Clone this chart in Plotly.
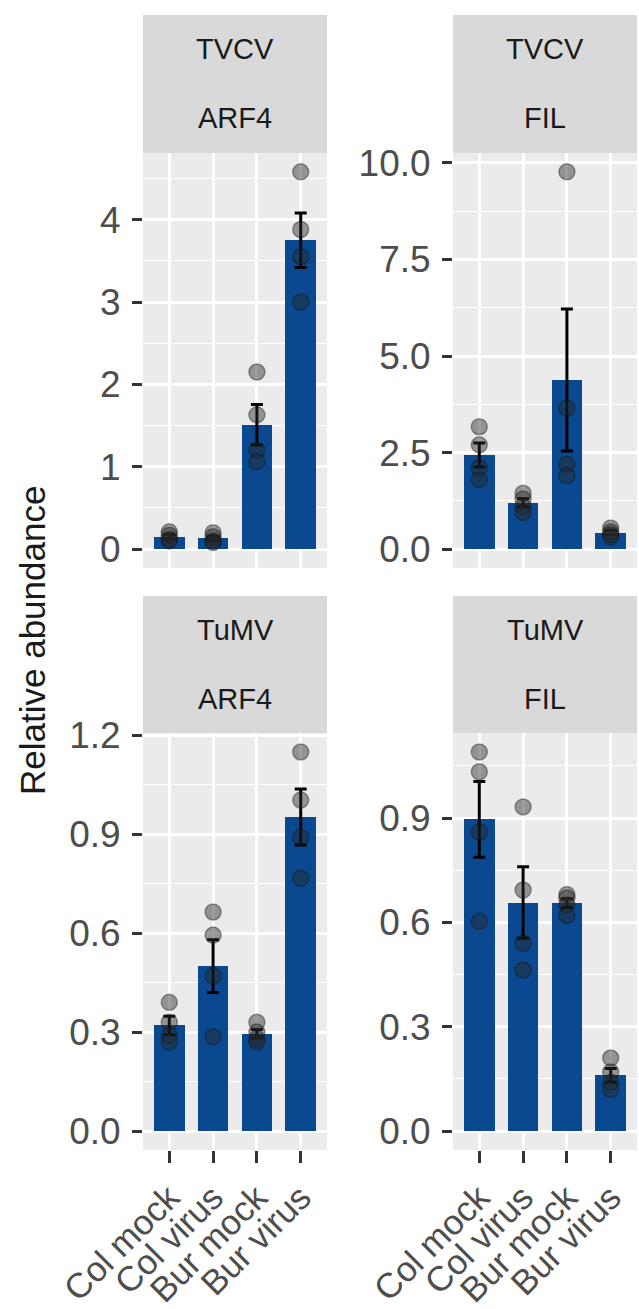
import plotly.graph_objects as go

W, H = 639, 1309

categories = ["Col mock", "Col virus", "Bur mock", "Bur virus"]
panel_virus = ["TVCV", "TVCV", "TuMV", "TuMV"]
panel_gene = ["ARF4", "FIL", "ARF4", "FIL"]

# bar heights (mean) and standard error per panel
tvcv_arf4_mean = [0.15, 0.13, 1.51, 3.75]
tvcv_arf4_se = [0.025, 0.025, 0.245, 0.33]
tvcv_fil_mean = [2.44, 1.20, 4.38, 0.43]
tvcv_fil_se = [0.31, 0.11, 1.84, 0.05]
tumv_arf4_mean = [0.32, 0.50, 0.295, 0.952]
tumv_arf4_se = [0.028, 0.08, 0.013, 0.085]
tumv_fil_mean = [0.896, 0.657, 0.655, 0.16]
tumv_fil_se = [0.109, 0.103, 0.013, 0.02]

# individual replicates (per category)
tvcv_arf4_pts = [[0.21, 0.17, 0.12, 0.10], [0.20, 0.15, 0.10, 0.08],
                 [2.15, 1.63, 1.20, 1.06], [4.58, 3.88, 3.55, 3.00]]
tvcv_fil_pts = [[3.17, 2.70, 2.10, 1.80], [1.45, 1.30, 1.10, 0.95],
                [9.77, 3.65, 2.20, 1.90], [0.55, 0.45, 0.38, 0.32]]
tumv_arf4_pts = [[0.39, 0.33, 0.29, 0.27], [0.664, 0.594, 0.47, 0.286],
                 [0.33, 0.30, 0.28, 0.27], [1.149, 1.003, 0.89, 0.766]]
tumv_fil_pts = [[1.09, 1.033, 0.86, 0.603], [0.932, 0.693, 0.54, 0.463],
                [0.68, 0.67, 0.65, 0.62], [0.21, 0.17, 0.14, 0.12]]

# y-axis tick labels per panel
tvcv_arf4_ticks = ["0", "1", "2", "3", "4"]
tvcv_fil_ticks = ["0.0", "2.5", "5.0", "7.5", "10.0"]
tumv_arf4_ticks = ["0.0", "0.3", "0.6", "0.9", "1.2"]
tumv_fil_ticks = ["0.0", "0.3", "0.6", "0.9"]

means = [tvcv_arf4_mean, tvcv_fil_mean, tumv_arf4_mean, tumv_fil_mean]
ses = [tvcv_arf4_se, tvcv_fil_se, tumv_arf4_se, tumv_fil_se]
pts = [tvcv_arf4_pts, tvcv_fil_pts, tumv_arf4_pts, tumv_fil_pts]
ticks = [tvcv_arf4_ticks, tvcv_fil_ticks, tumv_arf4_ticks, tumv_fil_ticks]

# layout geometry in pixels
col_x = [(143, 327), (453, 637)]
row_panel = [(153, 568), (733, 1150)]
row_strip = [(15, 153), (596, 733)]

FONT = "Liberation Sans, Arial, Helvetica, sans-serif"
BAR = "#0a4990"
TICKC = "#4d4d4d"

fig = go.Figure()
layout = {}
shapes = []
annotations = []

for i in range(4):
    r, c = divmod(i, 2)
    n = "" if i == 0 else str(i + 1)
    xa, ya = "x" + n, "y" + n
    x0, x1 = col_x[c]
    py0, py1 = row_panel[r]

    fig.add_trace(go.Bar(
        x=categories, y=means[i], width=0.7, marker=dict(color=BAR, line=dict(width=0)),
        xaxis=xa, yaxis=ya, showlegend=False, hoverinfo="skip"))
    fig.add_trace(go.Scatter(
        x=categories, y=means[i], mode="markers", marker=dict(size=1, opacity=0),
        error_y=dict(type="data", array=ses[i], color="black", thickness=3, width=6),
        xaxis=xa, yaxis=ya, showlegend=False, hoverinfo="skip"))
    px_, py_ = [], []
    for cat, vals in zip(categories, pts[i]):
        for v in vals:
            px_.append(cat)
            py_.append(v)
    fig.add_trace(go.Scatter(
        x=px_, y=py_, mode="markers",
        marker=dict(size=16, color="rgba(40,40,40,0.45)", line=dict(color="rgba(20,20,20,0.4)", width=1.5)),
        xaxis=xa, yaxis=ya, showlegend=False, hoverinfo="skip"))

    top = max(max(max(v) for v in pts[i]), max(m + s for m, s in zip(means[i], ses[i])))
    lo, hi = -0.05 * top, 1.05 * top
    tv = [float(t) for t in ticks[i]]
    step = tv[1] - tv[0]
    minor_vals = [tv[0] + step * (k + 0.5) for k in range(-1, len(tv) + 1)]
    minor_vals = [m for m in minor_vals if lo < m < hi]

    layout["xaxis" + n] = dict(
        domain=[x0 / W, x1 / W], anchor=ya, type="category",
        categoryorder="array", categoryarray=categories, range=[-0.6, 3.6],
        showgrid=True, gridcolor="white", gridwidth=2.5, zeroline=False, showline=False,
        ticks="outside" if r == 1 else "", ticklen=12, tickwidth=3, tickcolor="#333333",
        showticklabels=(r == 1), tickangle=-45,
        tickfont=dict(family=FONT, size=35, color=TICKC), automargin=False, fixedrange=True)
    layout["yaxis" + n] = dict(
        domain=[1 - py1 / H, 1 - py0 / H], anchor=xa, range=[lo, hi],
        tickmode="array", tickvals=tv, ticktext=ticks[i],
        showgrid=True, gridcolor="white", gridwidth=2.5, zeroline=False, showline=False,
        minor=dict(tickvals=minor_vals, showgrid=True, gridcolor="white", gridwidth=1.2, ticks=""),
        ticks="outside", ticklen=10, tickwidth=3, tickcolor="#333333",
        ticklabelstandoff=4,
        tickfont=dict(family=FONT, size=37, color=TICKC), automargin=False, fixedrange=True)

    sy0, sy1 = row_strip[r]
    shapes.append(dict(type="rect", xref="paper", yref="paper",
                       x0=x0 / W, x1=x1 / W, y0=1 - sy1 / H, y1=1 - sy0 / H,
                       fillcolor="#d9d9d9", line=dict(width=0), layer="below"))
    mid = (sy0 + sy1) / 2
    for txt, yy in ((panel_virus[i], (sy0 + mid) / 2), (panel_gene[i], (mid + sy1) / 2)):
        annotations.append(dict(text=txt, xref="paper", yref="paper",
                                x=(x0 + x1) / 2 / W, y=1 - yy / H, showarrow=False,
                                xanchor="center", yanchor="middle",
                                font=dict(family=FONT, size=29, color="#1a1a1a")))

annotations.append(dict(text="Relative abundance", xref="paper", yref="paper",
                        x=32 / W, y=1 - 641 / H, showarrow=False, textangle=-90,
                        xanchor="center", yanchor="middle",
                        font=dict(family=FONT, size=35, color="#1a1a1a")))

fig.update_layout(
    width=W, height=H, margin=dict(l=0, r=0, t=0, b=0),
    paper_bgcolor="white", plot_bgcolor="#ebebeb",
    shapes=shapes, annotations=annotations, bargap=0, showlegend=False,
    **layout)

fig.write_html("out.html", config={"displayModeBar": False},
               post_script="document.body.style.margin='0';document.body.style.overflow='hidden';")
